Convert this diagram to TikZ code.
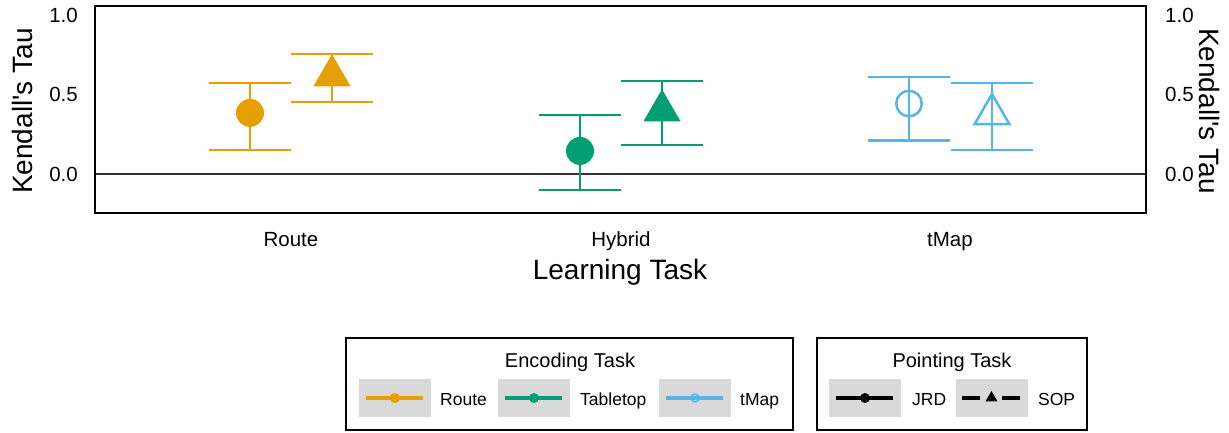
\documentclass[tikz,border=0pt]{standalone}
\usepackage{fontspec}
\setmainfont{Liberation Sans}
\usetikzlibrary{positioning,shapes}

\definecolor{route}{HTML}{E69F00}
\definecolor{tabletop}{HTML}{009E73}
\definecolor{tmap}{HTML}{56B4E9}

\tikzset{
    x=1pt,
    y=1pt,
    ticklabel/.style = {
        inner sep=0pt,
        font=\fontsize{20.5}{24}\selectfont
    },
    axtitle/.style = {
        inner sep=0pt,
        font=\fontsize{28}{32}\selectfont
    },
    dot/.style = {
        shape=circle,
        inner sep=0pt,
        minimum size=28pt
    },
    tri/.style = {
        shape=regular polygon,
        regular polygon sides=3,
        inner sep=0pt,
        minimum size=43pt
    },
    ebar/.style = {
        line width=2.6pt
    },
    legendbox/.style = {
        draw,
        shape=rectangle,
        line width=2pt,
        minimum height=92pt
    },
    legtitle/.style = {
        inner sep=0pt,
        font=\fontsize{20}{23}\selectfont
    },
    keybox/.style = {
        shape=rectangle,
        fill=gray!30,
        inner sep=0pt,
        minimum width=72pt,
        minimum height=38pt
    },
    keytext/.style = {
        inner sep=0pt,
        anchor=base west,
        font=\fontsize{17.5}{20}\selectfont
    },
    keyline/.style = {
        line width=3.8pt
    },
}

% error bar with caps: x, lower, upper, colour
\newcommand{\errbar}[4]{%
    \draw[ebar, #4] (#1-41,#2) -- (#1+41,#2) (#1,#2) -- (#1,#3) (#1-41,#3) -- (#1+41,#3);
}

\begin{document}
\begin{tikzpicture}
    \useasboundingbox (0,0) rectangle (1229,433);

    % panel, in data units
    \begin{scope}[yshift=259pt, y=159pt]
        \draw[line width=1.2pt, black!80] (95,0) -- (1146,0);

        \errbar{250}{0.151}{0.572}{route}
        \errbar{332}{0.453}{0.755}{route}
        \errbar{580}{-0.100}{0.371}{tabletop}
        \errbar{662}{0.182}{0.585}{tabletop}
        \errbar{909}{0.210}{0.610}{tmap}
        \errbar{992}{0.151}{0.572}{tmap}

        \node[dot, fill=route] (rjrd) at (250,0.384) {};
        \node[tri, fill=route] (rsop) at (332,0.619) {};
        \node[dot, fill=tabletop] (hjrd) at (580,0.145) {};
        \node[tri, fill=tabletop] (hsop) at (662,0.398) {};
        \node[dot, draw=tmap, line width=2.5pt, minimum size=25.5pt] (tjrd) at (909,0.443) {};
        \node[tri, draw=tmap, line width=2.5pt, minimum size=40pt] (tsop) at (992,0.377) {};

        \draw[line width=2.5pt] (95,-0.245) rectangle (1146,1.057);

        \foreach \v [count=\i] in {0.0,0.5,1.0} {
            \node[ticklabel, anchor=east] (yl\i) at (78,\v) {\v};
            \node[ticklabel, anchor=west] (yr\i) at (1165,\v) {\v};
        }
    \end{scope}

    % axis labels
    \node[ticklabel, anchor=base] (xroute) at (291,186) {Route};
    \node[ticklabel, anchor=base] (xhybrid) at (621,186) {Hybrid};
    \node[ticklabel, anchor=base] (xtmap) at (950,186) {tMap};
    \node[axtitle, anchor=base] (xtitle) at (620,153) {Learning Task};
    \node[axtitle, rotate=90] (ytitle) at (22,322) {Kendall\textquotesingle s Tau};
    \node[axtitle, rotate=-90] (ytitle2) at (1209,322) {Kendall\textquotesingle s Tau};

    % legend: encoding task
    \node[legendbox, minimum width=447pt] (enc) at (569.5,49) {};
    \node[legtitle, anchor=base] (enctitle) at (570,65) {Encoding Task};
    \node[keybox] (kroute) at (395,35) {};
    \node[keybox] (ktable) at (534,35) {};
    \node[keybox] (ktmap) at (695,35) {};
    \node[keytext] at (440,27) {Route};
    \node[keytext] at (580,27) {Tabletop};
    \node[keytext] at (740,27) {tMap};
    \draw[keyline, route] ([xshift=7pt]kroute.west) -- ([xshift=-8pt]kroute.east);
    \fill[route] (kroute) circle (5pt);
    \draw[keyline, tabletop] ([xshift=7pt]ktable.west) -- ([xshift=-8pt]ktable.east);
    \fill[tabletop] (ktable) circle (5pt);
    \draw[keyline, tmap] ([xshift=7pt]ktmap.west) -- ([xshift=-8pt]ktmap.east);
    \draw[tmap, line width=1.5pt] (ktmap) circle (4pt);

    % legend: pointing task
    \node[legendbox, minimum width=270pt] (pnt) at (952,49) {};
    \node[legtitle, anchor=base] (pnttitle) at (952,65) {Pointing Task};
    \node[keybox] (kjrd) at (865,35) {};
    \node[keybox] (ksop) at (991.5,35) {};
    \node[keytext] at (912,27) {JRD};
    \node[keytext] at (1038,27) {SOP};
    \draw[keyline] ([xshift=7pt]kjrd.west) -- ([xshift=-8pt]kjrd.east);
    \fill (kjrd) circle (5pt);
    \draw[keyline, dash pattern=on 18pt off 22pt] ([xshift=7pt]ksop.west) -- ([xshift=-6pt]ksop.east);
    \node[tri, fill=black, minimum size=14pt] at (ksop) {};
\end{tikzpicture}
\end{document}
